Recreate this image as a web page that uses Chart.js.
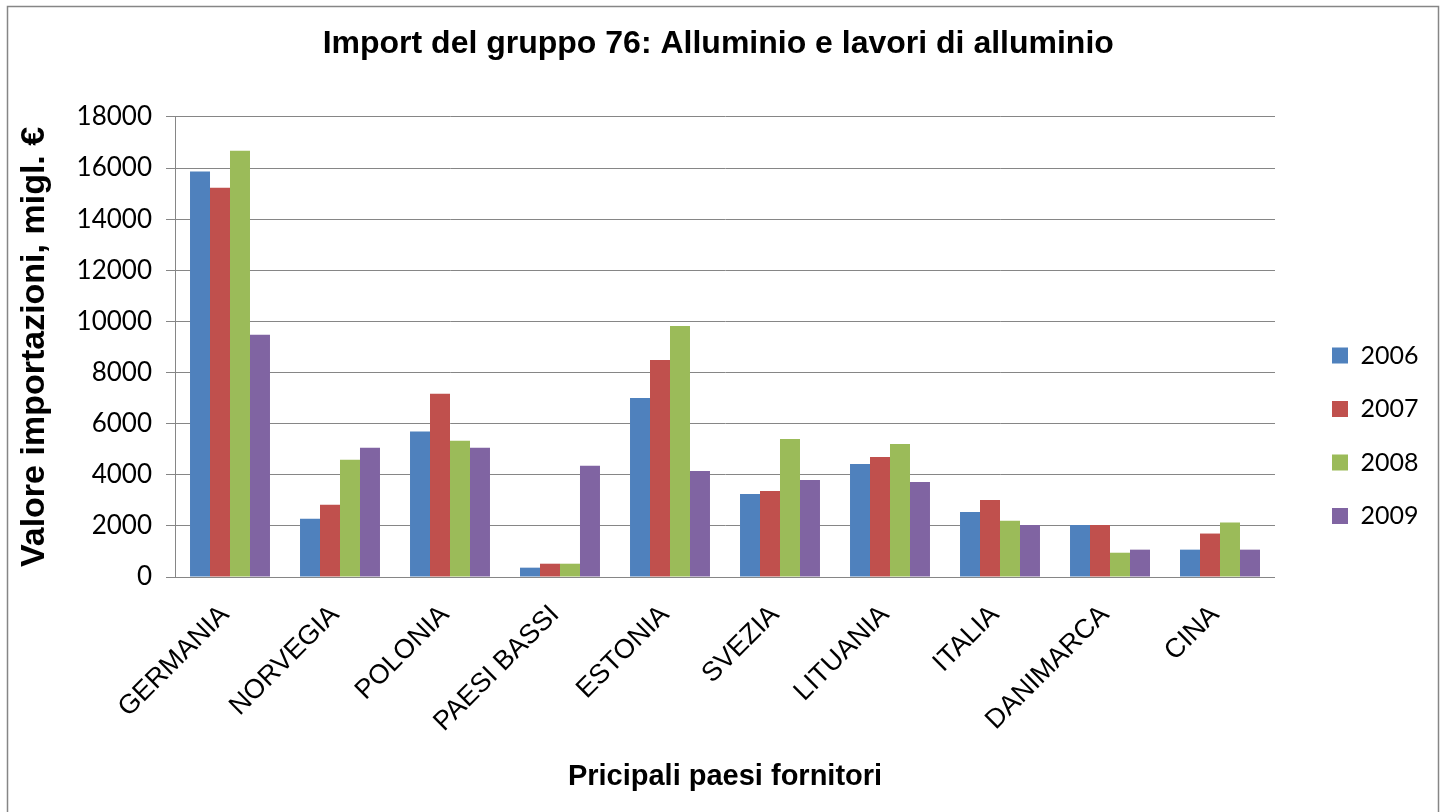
<!DOCTYPE html>
<html>
<head>
<meta charset="utf-8">
<script src="https://cdn.jsdelivr.net/npm/chart.js@4.4.1/dist/chart.umd.min.js"></script>
<style>
  html, body { margin: 0; padding: 0; background: #fff; }
  canvas { display: block; }
</style>
</head>
<body>
<canvas id="importChart" width="1441" height="812"></canvas>
<script>
const paesi = ['GERMANIA', 'NORVEGIA', 'POLONIA', 'PAESI BASSI', 'ESTONIA', 'SVEZIA', 'LITUANIA', 'ITALIA', 'DANIMARCA', 'CINA'];
const anni = ['2006', '2007', '2008', '2009'];
const valori2006 = [15860, 2280, 5690, 365, 7000, 3250, 4420, 2540, 2030, 1070];
const valori2007 = [15230, 2830, 7170, 520, 8490, 3360, 4690, 3010, 2030, 1700];
const valori2008 = [16680, 4590, 5330, 520, 9820, 5400, 5200, 2200, 950, 2130];
const valori2009 = [9480, 5060, 5060, 4350, 4150, 3790, 3720, 2030, 1070, 1070];
const colori = ['#4F81BD', '#C0504D', '#9BBB59', '#8064A2'];

const arial = "'Liberation Sans', Arial, sans-serif";
const calibri = "Lato, 'Open Sans', sans-serif";
const grigio = '#868686';

// cornice esterna come nel grafico Excel
const cornice = {
    id: 'cornice',
    beforeDraw(chart) {
        const ctx = chart.ctx;
        ctx.save();
        ctx.fillStyle = '#fff';
        ctx.fillRect(0, 0, chart.width, chart.height);
        ctx.strokeStyle = grigio;
        ctx.lineWidth = 1.5;
        ctx.strokeRect(7.5, 6.5, 1431, 812);
        ctx.restore();
    }
};

function renderImportChart() {
    const ctx = document.getElementById('importChart').getContext('2d');
    const serie = [valori2006, valori2007, valori2008, valori2009];
    const data = {
        labels: paesi,
        datasets: anni.map((anno, i) => ({
            label: anno,
            data: serie[i],
            backgroundColor: colori[i],
            borderWidth: 0,
            categoryPercentage: 0.727,
            barPercentage: 1.0
        }))
    };

    new Chart(ctx, {
        type: 'bar',
        data,
        plugins: [cornice],
        options: {
            responsive: false,
            animation: false,
            layout: { padding: { left: 8, right: 12.5, top: 8, bottom: 0 } },
            plugins: {
                title: {
                    display: true,
                    text: 'Import del gruppo 76: Alluminio e lavori di alluminio',
                    color: '#000',
                    font: { family: arial, size: 32, weight: 'bold' },
                    padding: { top: 17, bottom: 53.5 }
                },
                legend: {
                    position: 'right',
                    title: { display: true, text: '', font: { size: 12 }, padding: { top: 37, bottom: 0 } },
                    labels: {
                        color: '#000',
                        font: { family: calibri, size: 25 },
                        boxWidth: 16,
                        boxHeight: 16,
                        padding: 28.5
                    }
                },
                tooltip: { enabled: false }
            },
            scales: {
                x: {
                    grid: { display: false, drawTicks: false },
                    border: { display: true, color: grigio, width: 1 },
                    ticks: {
                        color: '#000',
                        font: { family: arial, size: 27 },
                        minRotation: 45,
                        maxRotation: 45,
                        padding: 22,
                        labelOffset: -5
                    },
                    title: {
                        display: true,
                        text: 'Pricipali paesi fornitori',
                        color: '#000',
                        font: { family: arial, size: 29, weight: 'bold' },
                        padding: { top: 0, bottom: 17.5 }
                    },
                    afterFit: s => { s.height = 235; }
                },
                y: {
                    min: 0,
                    max: 18000,
                    grid: { color: grigio, tickLength: 9, lineWidth: 1 },
                    border: { display: true, color: grigio, width: 1 },
                    ticks: {
                        stepSize: 2000,
                        color: '#000',
                        font: { family: calibri, size: 26 },
                        padding: 14,
                        callback: v => String(v)
                    },
                    title: {
                        display: true,
                        text: 'Valore importazioni, migl. €',
                        color: '#000',
                        font: { family: arial, size: 34, weight: 'bold' },
                        padding: { top: 6.5, bottom: 0 }
                    },
                    afterFit: s => { s.width = 167; }
                },
                // asse vuoto: solo spazio tra area del grafico e legenda
                spazio: {
                    position: 'right',
                    grid: { display: false, drawTicks: false },
                    border: { display: false },
                    ticks: { display: false },
                    afterFit: s => { s.width = 28.5; }
                }
            }
        }
    });
}

renderImportChart();
</script>
</body>
</html>
